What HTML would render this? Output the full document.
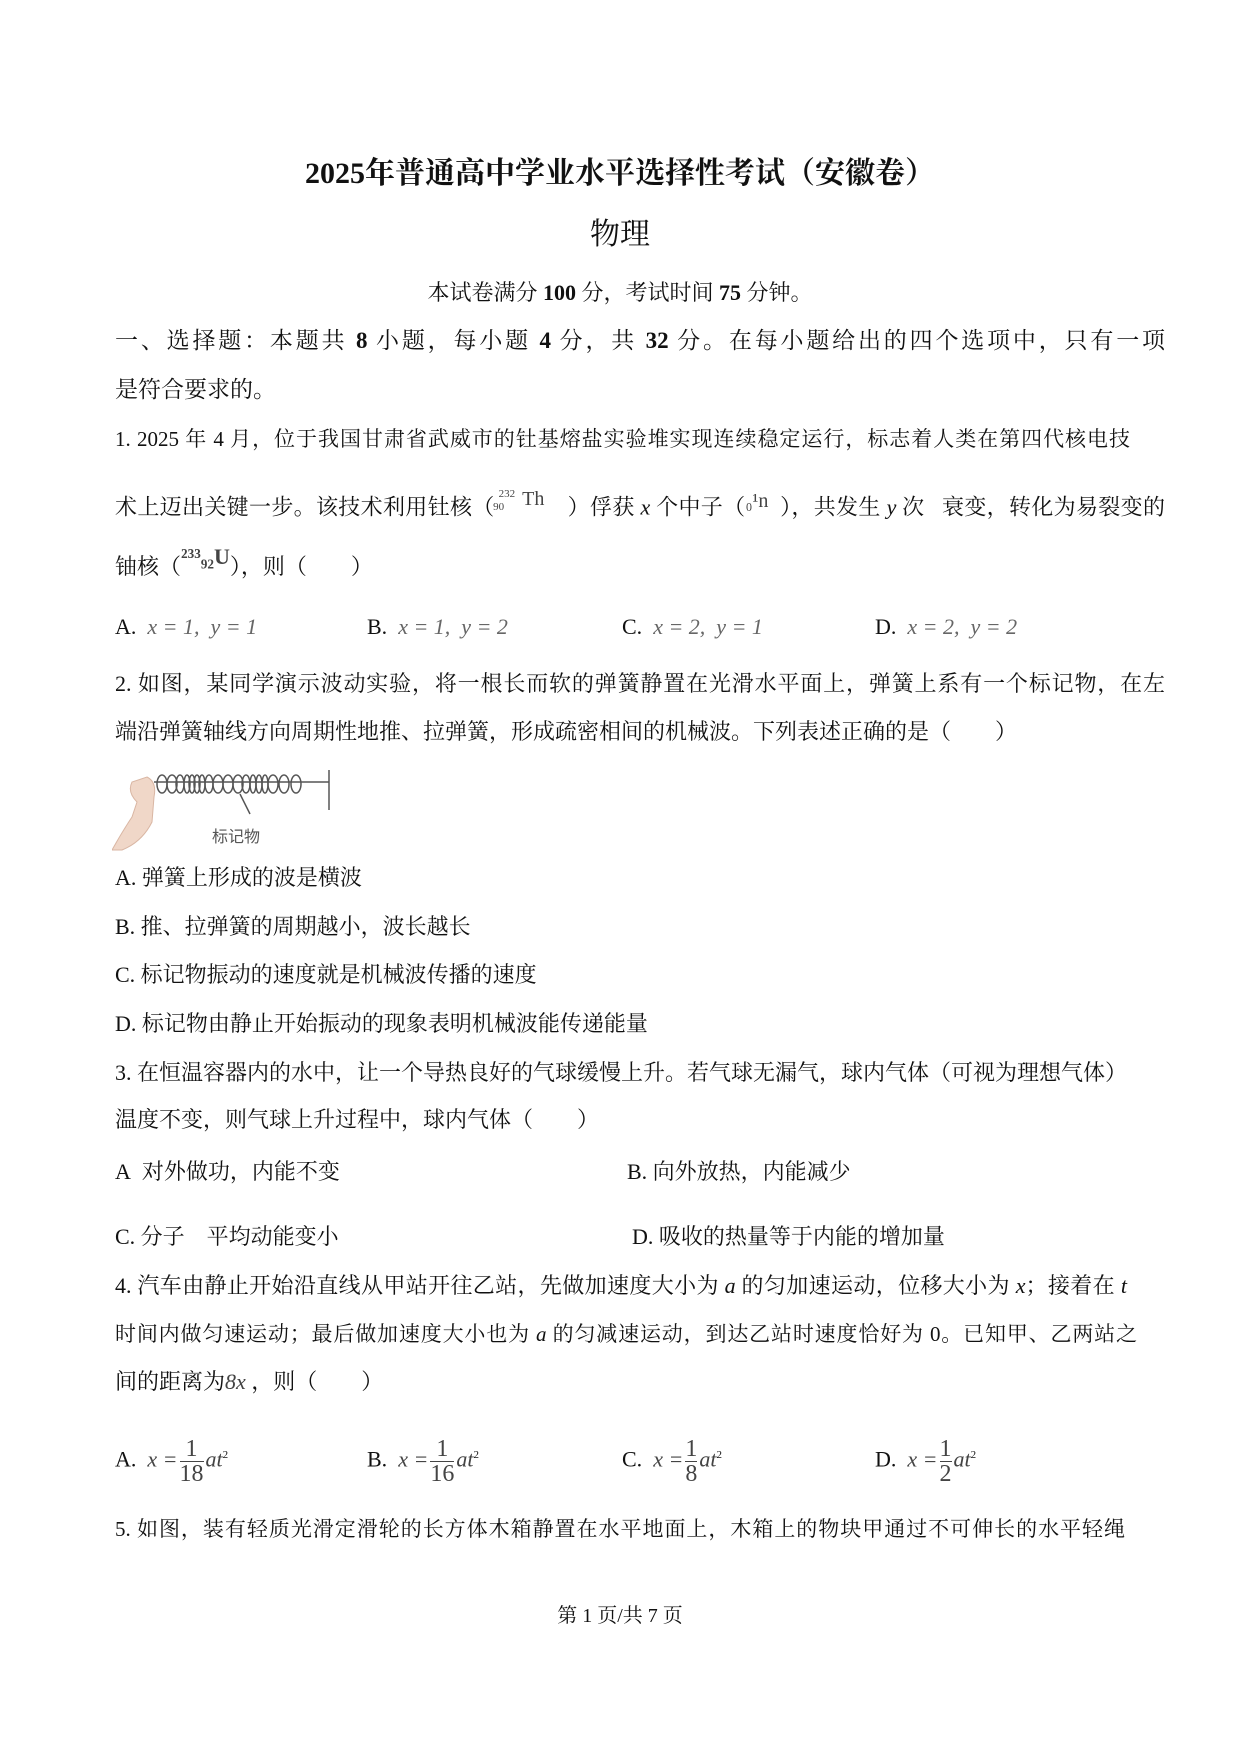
<!DOCTYPE html>
<html><head><meta charset="utf-8"><style>
body{margin:0;background:#fff;}
.p{position:relative;width:1240px;height:1754px;overflow:hidden;font-family:"Liberation Serif","Noto Serif CJK SC",serif;color:#111;}
.t{position:absolute;white-space:nowrap;font-size:22px;line-height:26px;}
.j{text-align:justify;text-align-last:justify;white-space:normal;width:1050px;height:26px;}
.s{font-size:21px;}
.c{left:0;width:1240px;text-align:center;}
.m{font-style:italic;color:#666;}
sup,sub{font-size:11px;}
.fr{display:inline-block;vertical-align:middle;text-align:center;font-style:normal;color:#444;line-height:24px;font-size:24px;margin:0 2px;}
.fr span{display:block;}
</style></head><body><div class="p">
<div class="t c" style="top:157px;font-size:30px;line-height:34px;font-weight:bold;left:0;">2025年普通高中学业水平选择性考试（安徽卷）</div>
<div class="t c" style="top:218px;font-size:30px;line-height:34px;">物理</div>
<div class="t c" style="top:280px;">本试卷满分 <b>100</b> 分，考试时间 <b>75</b> 分钟。</div>
<div class="t j" style="left:115px;top:328px;font-size:23px;">一、选择题：本题共 <b>8</b> 小题，每小题 <b>4</b> 分，共 <b>32</b> 分。在每小题给出的四个选项中，只有一项</div>
<div class="t" style="left:115px;top:377px;font-size:23px;">是符合要求的。</div>
<div class="t j s" style="left:115px;top:426px;width:1015px;">1. 2025 年 4 月，位于我国甘肃省武威市的钍基熔盐实验堆实现连续稳定运行，标志着人类在第四代核电技</div>
<div class="t j" style="left:115px;top:491px;">术上迈出关键一步。该技术利用钍核（<span style="position:relative;top:-10px;font-size:20px;color:#444"><sup style="position:relative;left:4px">232</sup><sub style="position:relative;left:-18px">90</sub>Th</span>&nbsp;&nbsp;&nbsp;&nbsp;）俘获 <i>x</i> 个中子（<span style="position:relative;top:-8px;font-size:20px;color:#444">₀¹n</span>&nbsp;&nbsp;），共发生 <i>y</i> 次&nbsp;&nbsp;&nbsp;衰变，转化为易裂变的</div>
<div class="t" style="left:115px;top:554px;">铀核（<span style="position:relative;top:-10px;font-size:22px;color:#444;font-weight:bold">²³³₉₂U</span>），则（&nbsp;&nbsp;&nbsp;&nbsp;&nbsp;&nbsp;&nbsp;&nbsp;）</div>
<div class="t" style="left:115px;top:614px;">A. <span class="m">&nbsp;x = 1,&nbsp; y = 1</span></div>
<div class="t" style="left:367px;top:614px;">B. <span class="m">&nbsp;x = 1,&nbsp; y = 2</span></div>
<div class="t" style="left:622px;top:614px;">C. <span class="m">&nbsp;x = 2,&nbsp; y = 1</span></div>
<div class="t" style="left:875px;top:614px;">D. <span class="m">&nbsp;x = 2,&nbsp; y = 2</span></div>
<div class="t j" style="left:115px;top:671px;">2. 如图，某同学演示波动实验，将一根长而软的弹簧静置在光滑水平面上，弹簧上系有一个标记物，在左</div>
<div class="t" style="left:115px;top:719px;">端沿弹簧轴线方向周期性地推、拉弹簧，形成疏密相间的机械波。下列表述正确的是（&nbsp;&nbsp;&nbsp;&nbsp;&nbsp;&nbsp;&nbsp;&nbsp;）</div>
<svg style="position:absolute;left:112px;top:762px" width="230" height="90">
<path d="M25 40 Q15 30 20 20 L35 15 Q45 20 42 35 L40 60 Q30 80 10 88 L0 88 Q10 70 20 55 Z" fill="#f0d7c8" stroke="#d9b6a3"/>
<g fill="none" stroke="#555" stroke-width="1.5">
<path d="M42 20 h175"/>
<ellipse cx="50" cy="22" rx="5" ry="9"/><ellipse cx="60" cy="22" rx="5" ry="9"/><ellipse cx="68" cy="22" rx="4" ry="9"/>
<ellipse cx="75" cy="22" rx="3" ry="9"/><ellipse cx="80" cy="22" rx="3" ry="9"/><ellipse cx="85" cy="22" rx="3" ry="9"/><ellipse cx="90" cy="22" rx="3" ry="9"/>
<ellipse cx="97" cy="22" rx="4" ry="9"/><ellipse cx="106" cy="22" rx="5" ry="9"/><ellipse cx="116" cy="22" rx="5" ry="9"/><ellipse cx="126" cy="22" rx="5" ry="9"/>
<ellipse cx="134" cy="22" rx="4" ry="9"/><ellipse cx="141" cy="22" rx="3" ry="9"/><ellipse cx="147" cy="22" rx="3" ry="9"/><ellipse cx="153" cy="22" rx="3" ry="9"/>
<ellipse cx="161" cy="22" rx="5" ry="9"/><ellipse cx="172" cy="22" rx="5" ry="9"/><ellipse cx="184" cy="22" rx="5" ry="9"/>
<path d="M217 8 v40"/><path d="M128 32 L138 52"/>
</g>
<text x="100" y="80" font-size="16" fill="#555" font-family="Noto Sans CJK SC,sans-serif">标记物</text>
</svg>
<div class="t" style="left:115px;top:865px;">A. 弹簧上形成的波是横波</div>
<div class="t" style="left:115px;top:914px;">B. 推、拉弹簧的周期越小，波长越长</div>
<div class="t" style="left:115px;top:962px;">C. 标记物振动的速度就是机械波传播的速度</div>
<div class="t" style="left:115px;top:1011px;">D. 标记物由静止开始振动的现象表明机械波能传递能量</div>
<div class="t" style="left:115px;top:1060px;">3. 在恒温容器内的水中，让一个导热良好的气球缓慢上升。若气球无漏气，球内气体（可视为理想气体）</div>
<div class="t" style="left:115px;top:1107px;">温度不变，则气球上升过程中，球内气体（&nbsp;&nbsp;&nbsp;&nbsp;&nbsp;&nbsp;&nbsp;&nbsp;）</div>
<div class="t" style="left:115px;top:1159px;">A&nbsp; 对外做功，内能不变</div>
<div class="t" style="left:627px;top:1159px;">B. 向外放热，内能减少</div>
<div class="t" style="left:115px;top:1224px;">C. 分子&nbsp;&nbsp;&nbsp; 平均动能变小</div>
<div class="t" style="left:632px;top:1224px;">D. 吸收的热量等于内能的增加量</div>
<div class="t j" style="left:115px;top:1273px;width:1012px;">4. 汽车由静止开始沿直线从甲站开往乙站，先做加速度大小为 <i>a</i> 的匀加速运动，位移大小为 <i>x</i>；接着在 <i>t</i></div>
<div class="t j s" style="left:115px;top:1321px;width:1022px;">时间内做匀速运动；最后做加速度大小也为 <i>a</i> 的匀减速运动，到达乙站时速度恰好为 0。已知甲、乙两站之</div>
<div class="t" style="left:115px;top:1369px;">间的距离为<i style="color:#444">8x</i> ，则（&nbsp;&nbsp;&nbsp;&nbsp;&nbsp;&nbsp;&nbsp;&nbsp;）</div>
<div class="t" style="left:115px;top:1430px;line-height:50px;">A.&nbsp; <i style="color:#444">x =</i><span class="fr"><span style="border-bottom:1px solid #444">1</span><span>18</span></span><i style="color:#444">at</i><sup>2</sup></div>
<div class="t" style="left:367px;top:1430px;line-height:50px;">B.&nbsp; <i style="color:#444">x =</i><span class="fr"><span style="border-bottom:1px solid #444">1</span><span>16</span></span><i style="color:#444">at</i><sup>2</sup></div>
<div class="t" style="left:622px;top:1430px;line-height:50px;">C.&nbsp; <i style="color:#444">x =</i><span class="fr"><span style="border-bottom:1px solid #444">1</span><span>8</span></span><i style="color:#444">at</i><sup>2</sup></div>
<div class="t" style="left:875px;top:1430px;line-height:50px;">D.&nbsp; <i style="color:#444">x =</i><span class="fr"><span style="border-bottom:1px solid #444">1</span><span>2</span></span><i style="color:#444">at</i><sup>2</sup></div>
<div class="t j s" style="left:115px;top:1516px;width:1010px;">5. 如图，装有轻质光滑定滑轮的长方体木箱静置在水平地面上，木箱上的物块甲通过不可伸长的水平轻绳</div>
<div class="t c" style="top:1603px;font-size:20px;">第 1 页/共 7 页</div>
</div></body></html>
